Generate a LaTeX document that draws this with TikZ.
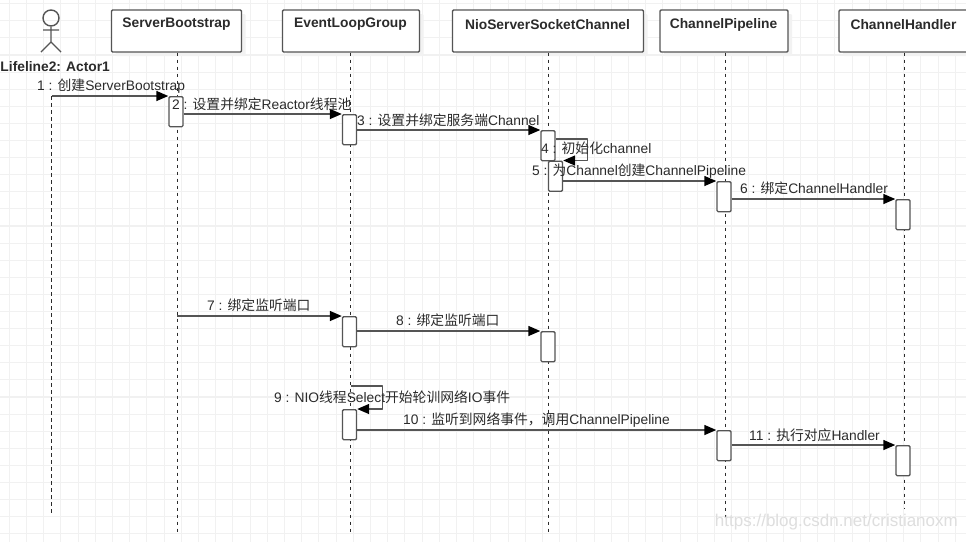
\documentclass[tikz,border=0pt]{standalone}
\usepackage{fontspec}
\setmainfont{Liberation Sans}
\newfontfamily\cjk{Noto Sans CJK SC}
\usetikzlibrary{arrows.meta, calc, positioning, shadows}
\definecolor{seq-ink}{HTML}{2B2B2B}
\definecolor{seq-line}{HTML}{555555}
\definecolor{seq-grid}{HTML}{F1F1F1}
\definecolor{seq-mark}{HTML}{DEDEDE}
\tikzset{
  headbox/.style={draw=seq-line, line width=1.4pt, fill=white, rounded corners=1.2pt, minimum height=42pt, inner sep=0pt,
    copy shadow={draw=none, fill=black!5, shadow xshift=4pt, shadow yshift=-4pt}},
  headtext/.style={text=seq-ink, font=\fontsize{13.8}{15}\selectfont\bfseries},
  actbox/.style={draw=seq-line, line width=1.4pt, fill=white, rounded corners=1.2pt, minimum width=14pt, minimum height=#1, inner sep=0pt, anchor=north},
  actbox/.default=30pt,
  lifeline/.style={seq-ink, line width=1.3pt, dash pattern=on 3.5pt off 3.5pt},
  msg/.style={seq-line, line width=1.4pt, -{Triangle[length=12pt, width=10pt, black]}},
  msgtext/.style={text=seq-ink, font=\fontsize{13.8}{15}\selectfont, inner sep=0pt},
}
\begin{document}
\begin{tikzpicture}[x=1pt, y=-1pt, line cap=butt, line join=round]
  \useasboundingbox (0,0) rectangle (966,542);
  \clip (0,0) rectangle (966,542);
  % raster
  \fill[white] (0,0) rectangle (966,542);
  \foreach \gx in {9.3,26.5,...,966} \draw[seq-grid, line width=1.1pt] (\gx,0) -- (\gx,542);
  \foreach \gy in {3.7,20.8,...,542} \draw[seq-grid, line width=1.1pt] (0,\gy) -- (966,\gy);
  % koepfe
  \node[headbox, minimum width=130pt] (boot) at (176.5,31) {};
  \node[headbox, minimum width=137pt] (group) at (351,31) {};
  \node[headbox, minimum width=191pt] (nio) at (548,31) {};
  \node[headbox, minimum width=128pt] (pipe) at (724,31) {};
  \node[headbox, minimum width=130pt] (handler) at (904,31) {};
  \node[headtext] at (176.5,24.5) {ServerBootstrap};
  \node[headtext] at (350.5,24.5) {EventLoopGroup};
  \node[headtext] at (547.5,24.5) {NioServerSocketChannel};
  \node[headtext] at (723.5,24.5) {ChannelPipeline};
  \node[headtext] at (903.5,24.5) {ChannelHandler};
  % akteur
  \node[circle, draw=seq-line, line width=1.4pt, minimum size=16pt, inner sep=0pt] (head) at (51,18) {};
  \coordinate (hip) at (51,42);
  \coordinate (armL) at (43,30);
  \coordinate (armR) at (59,30);
  \coordinate (footL) at (41,52);
  \coordinate (footR) at (61,52);
  \draw[seq-line, line width=1.4pt] (head.south) -- (hip) (armL) -- (armR) (footL) -- (hip) -- (footR);
  \node[headtext, inner sep=0pt, anchor=west] (actor) at (0.3,67) {Lifeline2: Actor1};
  % lebenslinien
  \coordinate (endA) at (51.8,516);
  \coordinate (startA) at (51.8,96);
  \coordinate (endB) at (177.3,534);
  \coordinate (endC) at (350.8,534);
  \coordinate (endD) at (548.7,534);
  \coordinate (endE) at (725.5,518);
  \coordinate (endF) at (904.3,508);
  \draw[lifeline] (startA) -- (endA);
  \draw[lifeline] ([xshift=0.8pt]boot.south) -- (endB);
  \draw[lifeline] ([xshift=-0.2pt]group.south) -- (endC);
  \draw[lifeline] ([xshift=0.7pt]nio.south) -- (endD);
  \draw[lifeline] ([xshift=1.5pt]pipe.south) -- (endE);
  \draw[lifeline] ([xshift=0.3pt]handler.south) -- (endF);
  % aktivierungen
  \node[actbox] (a1) at (176,96) {};
  \node[actbox] (a2) at (349.5,114) {};
  \node[actbox] (a3) at (548,130) {};
  \node[actbox] (a4) at (555.5,160.5) {};
  \node[actbox] (a5) at (724,181) {};
  \node[actbox] (a6) at (903,199) {};
  \node[actbox] (a7) at (349.5,316) {};
  \node[actbox] (a8) at (548,331) {};
  \node[actbox] (a9) at (349.5,409) {};
  \node[actbox] (a10) at (724,430) {};
  \node[actbox] (a11) at (903,445) {};
  % nachrichten
  \coordinate (s7) at (177,316);
  \draw[msg] (startA) -- (a1.north west);
  \draw[msg] (a1.east |- a2.north) -- (a2.north west);
  \draw[msg] (a2.east |- a3.north) -- (a3.north west);
  \draw[msg] (a4.east |- a5.north) -- (a5.north west);
  \draw[msg] (a5.east |- a6.north) -- (a6.north west);
  \draw[msg] (s7) -- (a7.north west);
  \draw[msg] (a7.east |- a8.north) -- (a8.north west);
  \draw[msg] (a9.east |- a10.north) -- (a10.north west);
  \draw[msg] (a10.east |- a11.north) -- (a11.north west);
  % schleifen
  \draw[msg] ($(a3.north east)+(0,9)$) -| ($(a4.north east)+(24,0)$) -- (a4.north east);
  \draw[msg] ($(a9.north)+(1,-23)$) -| ($(a9.north east)+(25,0)$) -- (a9.north east);
  % texte
  \node[msgtext, anchor=west] (m1) at (37,86) {1 : {\cjk 创建}ServerBootstrap};
  \node[msgtext, anchor=west] (m2) at (172,104) {2 : {\cjk 设置并绑定}Reactor{\cjk 线程池}};
  \node[msgtext, anchor=west] (m3) at (357,120) {3 : {\cjk 设置并绑定服务端}Channel};
  \node[msgtext, anchor=west] (m4) at (541,148) {4 : {\cjk 初始化}channel};
  \node[msgtext, anchor=west] (m5) at (532,171) {5 : {\cjk 为}Channel{\cjk 创建}ChannelPipeline};
  \node[msgtext, anchor=west] (m6) at (740,188) {6 : {\cjk 绑定}ChannelHandler};
  \node[msgtext, anchor=west] (m7) at (207,305) {7 : {\cjk 绑定监听端口}};
  \node[msgtext, anchor=west] (m8) at (396,320) {8 : {\cjk 绑定监听端口}};
  \node[msgtext, anchor=west] (m9) at (274,397) {9 : NIO{\cjk 线程}Select{\cjk 开始轮训网络}IO{\cjk 事件}};
  \node[msgtext, anchor=west] (m10) at (403,420) {10 : {\cjk 监听到网络事件，调用}ChannelPipeline};
  \node[msgtext, anchor=west] (m11) at (749,435) {11 : {\cjk 执行对应}Handler};
  % wasserzeichen
  \node[text=seq-mark, font=\fontsize{17}{19}\selectfont, inner sep=0pt, anchor=east] (mark) at (958,522) {https://blog.csdn.net/cristianoxm};
\end{tikzpicture}
\end{document}
